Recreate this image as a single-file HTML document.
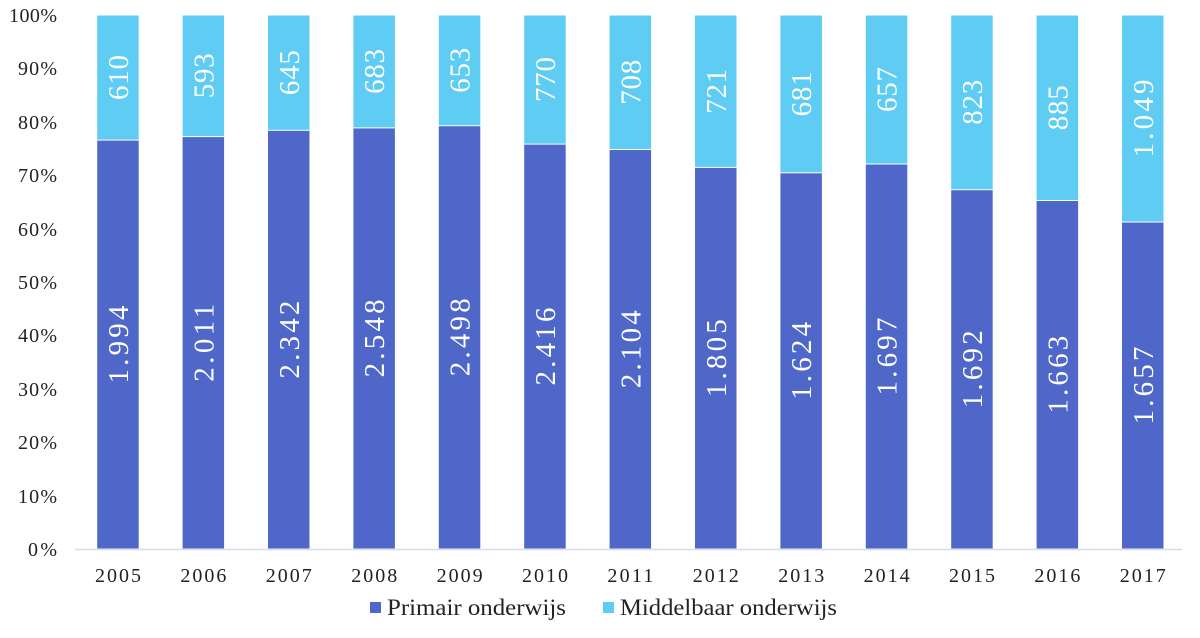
<!DOCTYPE html>
<html><head><meta charset="utf-8"><style>html,body{margin:0;padding:0;background:#fff}</style></head>
<body>
<svg width="1200" height="633" xmlns="http://www.w3.org/2000/svg" font-family="'Liberation Serif', serif">
<rect width="1200" height="633" fill="#fff"/>
<g font-size="20" fill="#222" text-anchor="end" lengthAdjust="spacingAndGlyphs">
<text x="57" y="22" textLength="48">100%</text><text x="57" y="75" textLength="39">90%</text><text x="57" y="129" textLength="39">80%</text>
<text x="57" y="182" textLength="39">70%</text><text x="57" y="236" textLength="39">60%</text><text x="57" y="289" textLength="39">50%</text>
<text x="57" y="342" textLength="39">40%</text><text x="57" y="396" textLength="39">30%</text><text x="57" y="449" textLength="39">20%</text>
<text x="57" y="503" textLength="39">10%</text><text x="57" y="556" textLength="29">0%</text>
</g>
<g stroke="#fff" stroke-width="1">
<rect x="96.7" y="15" width="42.5" height="534" fill="#5FCCF3"/><rect x="96.7" y="140.1" width="42.5" height="408.9" fill="#4F67C8"/>
<rect x="182.1" y="15" width="42.5" height="534" fill="#5FCCF3"/><rect x="182.1" y="136.6" width="42.5" height="412.4" fill="#4F67C8"/>
<rect x="267.5" y="15" width="42.5" height="534" fill="#5FCCF3"/><rect x="267.5" y="130.3" width="42.5" height="418.7" fill="#4F67C8"/>
<rect x="352.9" y="15" width="42.5" height="534" fill="#5FCCF3"/><rect x="352.9" y="127.9" width="42.5" height="421.1" fill="#4F67C8"/>
<rect x="438.3" y="15" width="42.5" height="534" fill="#5FCCF3"/><rect x="438.3" y="125.7" width="42.5" height="423.3" fill="#4F67C8"/>
<rect x="523.7" y="15" width="42.5" height="534" fill="#5FCCF3"/><rect x="523.7" y="144.1" width="42.5" height="404.9" fill="#4F67C8"/>
<rect x="609.1" y="15" width="42.5" height="534" fill="#5FCCF3"/><rect x="609.1" y="149.5" width="42.5" height="399.5" fill="#4F67C8"/>
<rect x="694.5" y="15" width="42.5" height="534" fill="#5FCCF3"/><rect x="694.5" y="167.4" width="42.5" height="381.6" fill="#4F67C8"/>
<rect x="779.9" y="15" width="42.5" height="534" fill="#5FCCF3"/><rect x="779.9" y="172.8" width="42.5" height="376.2" fill="#4F67C8"/>
<rect x="865.3" y="15" width="42.5" height="534" fill="#5FCCF3"/><rect x="865.3" y="164.0" width="42.5" height="385.0" fill="#4F67C8"/>
<rect x="950.7" y="15" width="42.5" height="534" fill="#5FCCF3"/><rect x="950.7" y="189.7" width="42.5" height="359.3" fill="#4F67C8"/>
<rect x="1036.1" y="15" width="42.5" height="534" fill="#5FCCF3"/><rect x="1036.1" y="200.5" width="42.5" height="348.5" fill="#4F67C8"/>
<rect x="1121.5" y="15" width="42.5" height="534" fill="#5FCCF3"/><rect x="1121.5" y="222.0" width="42.5" height="327.0" fill="#4F67C8"/>
</g>
<line x1="75" y1="549.5" x2="1182" y2="549.5" stroke="#D5DCEC" stroke-width="1.5"/>
<g font-size="29" fill="#fff" text-anchor="middle" lengthAdjust="spacingAndGlyphs">
<text transform="translate(128,77.5) rotate(-90)" textLength="45">610</text><text transform="translate(128,344.5) rotate(-90)" textLength="78">1.994</text>
<text transform="translate(213.4,75.8) rotate(-90)" textLength="45">593</text><text transform="translate(213.4,342.8) rotate(-90)" textLength="78">2.011</text>
<text transform="translate(298.8,72.6) rotate(-90)" textLength="45">645</text><text transform="translate(298.8,339.6) rotate(-90)" textLength="78">2.342</text>
<text transform="translate(384.2,71.4) rotate(-90)" textLength="45">683</text><text transform="translate(384.2,338.4) rotate(-90)" textLength="78">2.548</text>
<text transform="translate(469.6,70.3) rotate(-90)" textLength="45">653</text><text transform="translate(469.6,337.3) rotate(-90)" textLength="78">2.498</text>
<text transform="translate(555,79.5) rotate(-90)" textLength="45">770</text><text transform="translate(555,346.5) rotate(-90)" textLength="78">2.416</text>
<text transform="translate(640.4,82.2) rotate(-90)" textLength="45">708</text><text transform="translate(640.4,349.2) rotate(-90)" textLength="78">2.104</text>
<text transform="translate(725.8,91.2) rotate(-90)" textLength="45">721</text><text transform="translate(725.8,358.2) rotate(-90)" textLength="78">1.805</text>
<text transform="translate(811.2,93.9) rotate(-90)" textLength="45">681</text><text transform="translate(811.2,360.9) rotate(-90)" textLength="78">1.624</text>
<text transform="translate(896.6,89.5) rotate(-90)" textLength="45">657</text><text transform="translate(896.6,356.5) rotate(-90)" textLength="78">1.697</text>
<text transform="translate(982,102.3) rotate(-90)" textLength="45">823</text><text transform="translate(982,369.3) rotate(-90)" textLength="78">1.692</text>
<text transform="translate(1067.4,107.7) rotate(-90)" textLength="45">885</text><text transform="translate(1067.4,374.7) rotate(-90)" textLength="78">1.663</text>
<text transform="translate(1152.8,118.5) rotate(-90)" textLength="78">1.049</text><text transform="translate(1152.8,385.5) rotate(-90)" textLength="78">1.657</text>
</g>
<g font-size="20" fill="#222" text-anchor="middle" lengthAdjust="spacingAndGlyphs">
<text x="118" y="582" textLength="46">2005</text><text x="203.4" y="582" textLength="46">2006</text><text x="288.8" y="582" textLength="46">2007</text>
<text x="374.2" y="582" textLength="46">2008</text><text x="459.6" y="582" textLength="46">2009</text><text x="545" y="582" textLength="46">2010</text>
<text x="630.4" y="582" textLength="46">2011</text><text x="715.8" y="582" textLength="46">2012</text><text x="801.2" y="582" textLength="46">2013</text>
<text x="886.6" y="582" textLength="46">2014</text><text x="972" y="582" textLength="46">2015</text><text x="1057.4" y="582" textLength="46">2016</text>
<text x="1142.8" y="582" textLength="46">2017</text>
</g>
<rect x="370" y="602" width="11" height="11" fill="#4F67C8"/>
<text x="387" y="615" font-size="23" fill="#222" textLength="179" lengthAdjust="spacingAndGlyphs">Primair onderwijs</text>
<rect x="603" y="602" width="11" height="11" fill="#5FCCF3"/>
<text x="620" y="615" font-size="23" fill="#222" textLength="217" lengthAdjust="spacingAndGlyphs">Middelbaar onderwijs</text>
</svg>
</body></html>
